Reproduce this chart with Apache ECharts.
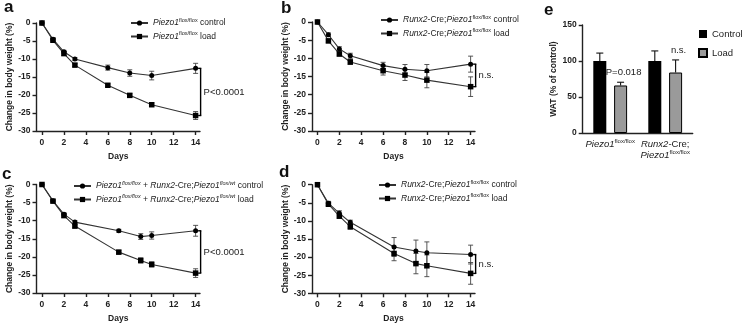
<!DOCTYPE html>
<html>
<head>
<meta charset="utf-8">
<script src="https://cdn.jsdelivr.net/npm/echarts@6/dist/echarts.min.js"></script>
<style>html,body{margin:0;background:#fff}#chart{width:744px;height:330px}</style>
</head>
<body>
<div id="chart"></div>
<script>
/****** DATA ******/
var tickDays = [0, 2, 4, 6, 8, 10, 12, 14];

// panel a
var daysA = [0, 1, 2, 3, 6, 8, 10, 14];
var aCtrl = [0, -4.5, -8.0, -10.0, -12.4, -13.9, -14.6, -12.6];
var aCtrlErr = [0, 0.4, 0.4, 0.4, 0.7, 0.9, 1.2, 1.4];
var aLoad = [0, -4.8, -8.5, -11.7, -17.3, -20.1, -22.7, -25.7];
var aLoadErr = [0, 0.4, 0.5, 0.4, 0.4, 0.5, 0.5, 1.1];

// panel b
var daysB = [0, 1, 2, 3, 6, 8, 10, 14];
var bCtrl = [0, -3.5, -7.4, -9.3, -12.0, -13.0, -13.4, -11.6];
var bCtrlErr = [0, 0.5, 0.6, 0.7, 0.9, 1.3, 1.7, 2.2];
var bLoad = [0, -5.2, -8.8, -11.0, -13.4, -14.6, -16.0, -17.8];
var bLoadErr = [0, 0.5, 0.6, 0.7, 1.2, 1.5, 2.1, 2.7];

// panel c
var daysC = [0, 1, 2, 3, 7, 9, 10, 14];
var cCtrl = [0, -4.5, -8.2, -10.4, -12.8, -14.4, -14.1, -12.8];
var cCtrlErr = [0, 0.3, 0.4, 0.4, 0.4, 0.8, 1.0, 1.5];
var cLoad = [0, -4.6, -8.6, -11.5, -18.7, -21.0, -22.1, -24.5];
var cLoadErr = [0, 0.3, 0.4, 0.5, 0.5, 0.7, 0.7, 1.2];

// panel d
var daysD = [0, 1, 2, 3, 7, 9, 10, 14];
var dCtrl = [0, -5.1, -7.9, -10.4, -17.2, -18.3, -18.8, -19.3];
var dCtrlErr = [0, 0.5, 0.7, 0.6, 2.6, 3.0, 3.0, 2.6];
var dLoad = [0, -5.4, -8.7, -11.6, -19.0, -21.8, -22.4, -24.5];
var dLoadErr = [0, 0.4, 0.5, 0.7, 2.0, 2.8, 3.0, 3.0];

// panel e
var groupsE = ['Piezo1 flox/flox', 'Runx2-Cre; Piezo1 flox/flox'];
var wCtrl = [100, 100];
var wCtrlErr = [11, 14];
var wLoad = [66, 84];
var wLoadErr = [4.5, 17.5];
var eNotes = ['P=0.018', 'n.s.'];

/****** STYLE ******/
var FONT = 'Liberation Sans, Arial, sans-serif';
var INK = '#222';

var legendText = {
    aC: '{i|Piezo1}{s|flox/flox} control',
    aL: '{i|Piezo1}{s|flox/flox} load',
    bC: '{i|Runx2}-Cre;{i|Piezo1}{s|flox/flox} control',
    bL: '{i|Runx2}-Cre;{i|Piezo1}{s|flox/flox} load',
    cC: '{i|Piezo1}{si|flox/flox} + {i|Runx2}-Cre;{i|Piezo1}{si|flox/wt} control',
    cL: '{i|Piezo1}{si|flox/flox} + {i|Runx2}-Cre;{i|Piezo1}{si|flox/wt} load',
    dC: '{i|Runx2}-Cre;{i|Piezo1}{s|flox/flox} control',
    dL: '{i|Runx2}-Cre;{i|Piezo1}{s|flox/flox} load'
};
var richText = {
    i: { fontStyle: 'italic', fontSize: 8.5, fontFamily: FONT, color: INK },
    s: { fontSize: 5.5, fontFamily: FONT, color: INK, padding: [0, 0, 6, 0] },
    si: { fontSize: 5.5, fontStyle: 'italic', fontFamily: FONT, color: INK, padding: [0, 0, 6, 0] }
};

function axisName() {
    return { fontSize: 8.5, fontWeight: 'bold', color: INK, fontFamily: FONT };
}
function tickLabel() {
    return { fontSize: 8.5, fontWeight: 'bold', color: INK, fontFamily: FONT };
}

function xDays(idx) {
    return {
        type: 'value', gridIndex: idx, min: -0.5, max: 14.4,
        name: 'Days', nameLocation: 'middle', nameGap: 21, nameTextStyle: axisName(),
        axisLine: { onZero: false, lineStyle: { color: INK, width: 1.4 } },
        axisTick: { customValues: tickDays, length: 4, lineStyle: { color: INK, width: 1.4 } },
        axisLabel: Object.assign({ customValues: tickDays, margin: 7 }, tickLabel()),
        splitLine: { show: false }
    };
}
function yWeight(idx) {
    return {
        type: 'value', gridIndex: idx, min: -30, max: 0, interval: 5,
        name: 'Change in body weight (%)', nameLocation: 'middle', nameGap: 22, nameTextStyle: axisName(),
        axisLine: { show: true, onZero: false, lineStyle: { color: INK, width: 1.4 } },
        axisTick: { show: true, length: 4, lineStyle: { color: INK, width: 1.4 } },
        axisLabel: Object.assign({ margin: 6 }, tickLabel()),
        splitLine: { show: false }
    };
}

function lineSeries(name, idx, days, vals, sym) {
    return {
        name: name, type: 'line', xAxisIndex: idx, yAxisIndex: idx,
        data: days.map(function (d, i) { return [d, vals[i]]; }),
        symbol: sym, symbolSize: sym === 'rect' ? 5.5 : 5, showAllSymbol: true,
        lineStyle: { color: '#333', width: 1.1 },
        itemStyle: { color: '#000' },
        z: 3, animation: false
    };
}

function errRender(params, api) {
    var x = api.value(0), y = api.value(1), e = api.value(2);
    if (!e) return;
    var top = api.coord([x, y + e]), bot = api.coord([x, y - e]);
    var st = { stroke: '#444', lineWidth: 0.9 };
    return {
        type: 'group', children: [
            { type: 'line', shape: { x1: top[0], y1: top[1], x2: bot[0], y2: bot[1] }, style: st },
            { type: 'line', shape: { x1: top[0] - 2.5, y1: top[1], x2: top[0] + 2.5, y2: top[1] }, style: st },
            { type: 'line', shape: { x1: bot[0] - 2.5, y1: bot[1], x2: bot[0] + 2.5, y2: bot[1] }, style: st }
        ]
    };
}
function errSeries(idx, days, vals, errs) {
    return {
        type: 'custom', xAxisIndex: idx, yAxisIndex: idx, silent: true, z: 2,
        renderItem: errRender,
        data: days.map(function (d, i) { return [d, vals[i], errs[i]]; })
    };
}

function bracketSeries(idx, day, v1, v2, label) {
    return {
        type: 'custom', xAxisIndex: idx, yAxisIndex: idx, silent: true, z: 4, clip: false,
        data: [[day, v1, v2]],
        renderItem: function (params, api) {
            var p1 = api.coord([api.value(0), api.value(1)]);
            var p2 = api.coord([api.value(0), api.value(2)]);
            var x = p1[0] + 5;
            var st = { stroke: '#000', lineWidth: 1.4 };
            return {
                type: 'group', children: [
                    { type: 'line', shape: { x1: x, y1: p1[1], x2: x, y2: p2[1] }, style: st },
                    { type: 'line', shape: { x1: x - 2.5, y1: p1[1], x2: x + 0.7, y2: p1[1] }, style: st },
                    { type: 'line', shape: { x1: x - 2.5, y1: p2[1], x2: x + 0.7, y2: p2[1] }, style: st },
                    { type: 'text', x: x + 3, y: (p1[1] + p2[1]) / 2,
                      style: { text: label, fill: INK, fontSize: 9.5, fontFamily: FONT, align: 'left', verticalAlign: 'middle' } }
                ]
            };
        }
    };
}

function legendFor(names, left, top) {
    return {
        data: names, orient: 'vertical', left: left, top: top, padding: 0,
        itemWidth: 17, itemHeight: 6.5, itemGap: 3, selectedMode: false,
        formatter: function (n) { return legendText[n]; },
        textStyle: { fontSize: 8.5, color: INK, fontFamily: FONT, rich: richText }
    };
}

var BAR_OFF = 10.4;

var option = {
    animation: false,
    backgroundColor: '#fff',
    title: [
        { text: 'a', left: 4, top: -1 },
        { text: 'b', left: 281, top: 0 },
        { text: 'c', left: 2, top: 166 },
        { text: 'd', left: 279, top: 164 },
        { text: 'e', left: 544, top: 2 }
    ].map(function (t) {
        t.padding = 0;
        t.textStyle = { fontSize: 17, fontWeight: 'bold', color: '#111', fontFamily: FONT };
        return t;
    }),
    legend: [
        legendFor(['aC', 'aL'], 130, 17),
        legendFor(['bC', 'bL'], 380, 14),
        legendFor(['cC', 'cL'], 73, 180),
        legendFor(['dC', 'dL'], 378, 179),
        {
            data: ['Control', 'Load'], orient: 'vertical', left: 698, top: 29, padding: 0,
            icon: 'rect', itemWidth: 8, itemHeight: 8, itemGap: 9, selectedMode: false,
            textStyle: { fontSize: 9.5, color: INK, fontFamily: FONT }
        }
    ],
    grid: [
        { left: 36.5, top: 23, width: 163.5, height: 108, outerBoundsMode: 'none' },
        { left: 312, top: 22, width: 163, height: 109, outerBoundsMode: 'none' },
        { left: 36.5, top: 184.5, width: 163.5, height: 108.5, outerBoundsMode: 'none' },
        { left: 312, top: 184.7, width: 163, height: 108.6, outerBoundsMode: 'none' },
        { left: 582.7, top: 25, width: 110, height: 108, outerBoundsMode: 'none' }
    ],
    xAxis: [
        xDays(0), xDays(1), xDays(2), xDays(3),
        {
            type: 'category', gridIndex: 4, data: groupsE,
            axisLine: { lineStyle: { color: INK, width: 1.4 } },
            axisTick: { show: false },
            axisLabel: {
                margin: 6, interval: 0, lineHeight: 11,
                formatter: function (v, i) {
                    return i === 0 ? '{i|Piezo1}{s|flox/flox}'
                                   : '{i|Runx2}-Cre;\n{i|Piezo1}{s|flox/flox}';
                },
                fontSize: 9.5, color: INK, fontFamily: FONT,
                rich: {
                    i: { fontStyle: 'italic', fontSize: 9.5, fontFamily: FONT, color: INK, lineHeight: 11 },
                    s: { fontSize: 6, fontFamily: FONT, color: INK, padding: [0, 0, 6, 0], lineHeight: 11 }
                }
            }
        }
    ],
    yAxis: [
        yWeight(0), yWeight(1), yWeight(2), yWeight(3),
        {
            type: 'value', gridIndex: 4, min: 0, max: 150, interval: 50,
            name: 'WAT (% of control)', nameLocation: 'middle', nameGap: 24, nameTextStyle: axisName(),
            axisLine: { show: true, lineStyle: { color: INK, width: 1.4 } },
            axisTick: { show: true, length: 4, lineStyle: { color: INK, width: 1.4 } },
            axisLabel: Object.assign({ margin: 6 }, tickLabel()),
            splitLine: { show: false }
        }
    ],
    series: [
        lineSeries('aC', 0, daysA, aCtrl, 'circle'),
        lineSeries('aL', 0, daysA, aLoad, 'rect'),
        errSeries(0, daysA, aCtrl, aCtrlErr),
        errSeries(0, daysA, aLoad, aLoadErr),
        bracketSeries(0, 14, aCtrl[7], aLoad[7], 'P<0.0001'),

        lineSeries('bC', 1, daysB, bCtrl, 'circle'),
        lineSeries('bL', 1, daysB, bLoad, 'rect'),
        errSeries(1, daysB, bCtrl, bCtrlErr),
        errSeries(1, daysB, bLoad, bLoadErr),
        bracketSeries(1, 14, bCtrl[7], bLoad[7], 'n.s.'),

        lineSeries('cC', 2, daysC, cCtrl, 'circle'),
        lineSeries('cL', 2, daysC, cLoad, 'rect'),
        errSeries(2, daysC, cCtrl, cCtrlErr),
        errSeries(2, daysC, cLoad, cLoadErr),
        bracketSeries(2, 14, cCtrl[7], cLoad[7], 'P<0.0001'),

        lineSeries('dC', 3, daysD, dCtrl, 'circle'),
        lineSeries('dL', 3, daysD, dLoad, 'rect'),
        errSeries(3, daysD, dCtrl, dCtrlErr),
        errSeries(3, daysD, dLoad, dLoadErr),
        bracketSeries(3, 14, dCtrl[7], dLoad[7], 'n.s.'),

        {
            name: 'Control', type: 'bar', xAxisIndex: 4, yAxisIndex: 4,
            data: wCtrl, barWidth: 13, barGap: '60%',
            itemStyle: { color: '#000' }
        },
        {
            name: 'Load', type: 'bar', xAxisIndex: 4, yAxisIndex: 4,
            data: wLoad, barWidth: 13, barGap: '60%',
            itemStyle: { color: '#9a9a9a', borderColor: '#000', borderWidth: 1 }
        },
        {
            type: 'custom', xAxisIndex: 4, yAxisIndex: 4, silent: true, z: 3,
            data: wCtrl.map(function (v, i) { return [i, v, wCtrlErr[i], -1]; })
                .concat(wLoad.map(function (v, i) { return [i, v, wLoadErr[i], 1]; })),
            renderItem: function (params, api) {
                var c = api.coord([api.value(0), api.value(1)]);
                var t = api.coord([api.value(0), api.value(1) + api.value(2)]);
                var x = c[0] + api.value(3) * BAR_OFF;
                var st = { stroke: '#111', lineWidth: 1.1 };
                return {
                    type: 'group', children: [
                        { type: 'line', shape: { x1: x, y1: c[1], x2: x, y2: t[1] }, style: st },
                        { type: 'line', shape: { x1: x - 3.5, y1: t[1], x2: x + 3.5, y2: t[1] }, style: st }
                    ]
                };
            }
        },
        {
            type: 'custom', xAxisIndex: 4, yAxisIndex: 4, silent: true, z: 4,
            data: wLoad.map(function (v, i) { return [i, v + wLoadErr[i]]; }),
            renderItem: function (params, api) {
                var t = api.coord([api.value(0), api.value(1)]);
                return {
                    type: 'text', x: t[0] + BAR_OFF + 3, y: t[1] - 5,
                    style: { text: eNotes[params.dataIndex], fill: INK, fontSize: 9.5, fontFamily: FONT,
                             align: 'center', verticalAlign: 'bottom' }
                };
            }
        }
    ]
};

var chart = echarts.init(document.getElementById('chart'), null, { renderer: 'canvas' });
chart.setOption(option);
</script>
</body>
</html>
